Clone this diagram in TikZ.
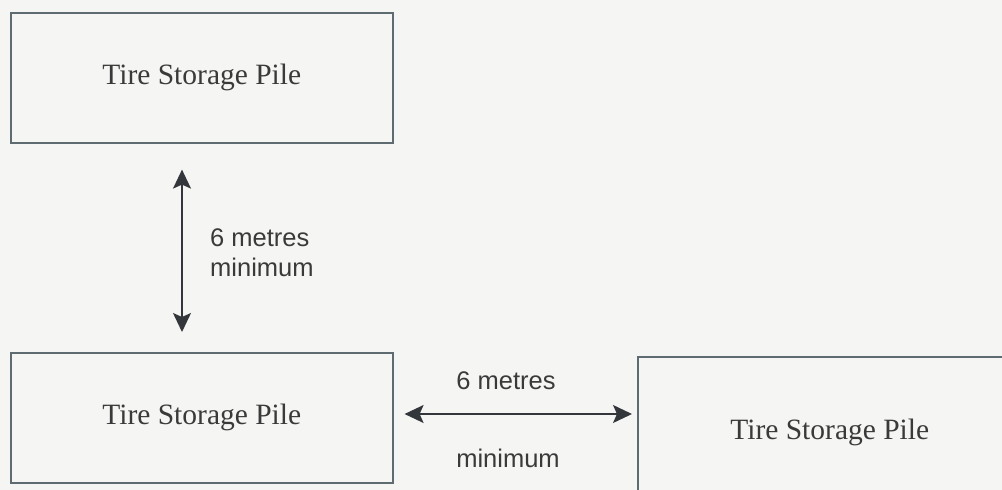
\documentclass[tikz,border=0pt]{standalone}
\usepackage{fontspec}
\setmainfont{Liberation Serif}
\setsansfont{Liberation Sans}
\usetikzlibrary{arrows.meta}
\definecolor{bgc}{HTML}{F5F5F3}
\definecolor{boxline}{HTML}{5E6C72}
\definecolor{txt}{HTML}{3A3A3A}
\definecolor{arr}{HTML}{33363A}
\tikzset{
  pile/.style={draw=boxline, line width=1.6pt, fill=none, text=txt,
    font=\fontsize{29.5}{34}\selectfont, inner sep=0pt, anchor=north west},
  dimline/.style={draw=arr, line width=1.4pt,
    {Stealth[length=19pt,width=18pt,inset=4pt]}-{Stealth[length=19pt,width=18pt,inset=4pt]}},
  dimlabel/.style={text=txt, font=\sffamily\fontsize{25.5}{30}\selectfont, inner sep=0pt}
}
\begin{document}
\begin{tikzpicture}[x=1pt,y=-1pt]
  \fill[bgc] (0,0) rectangle (1002,490);
  \useasboundingbox (0,0) rectangle (1002,490);
  \clip (0,0) rectangle (1002,490);
  \node[pile, minimum width=382pt, minimum height=130pt] (top) at (10,12) {Tire Storage Pile};
  \node[pile, minimum width=382pt, minimum height=130pt] (bl) at (10,352) {Tire Storage Pile};
  \node[pile, minimum width=384pt, minimum height=152pt] (br) at (637,356) {Tire Storage Pile};
  \coordinate (vx) at (182,0);
  \coordinate (hy) at (0,414);
  \draw[dimline, shorten <=26pt, shorten >=20pt] (top.south -| vx) -- (bl.north -| vx);
  \draw[dimline, shorten <=11pt, shorten >=5pt] (bl.east |- hy) -- (br.west |- hy);
  \node[dimlabel, anchor=west, align=left] (vlab) at (210,253) {6 metres\\minimum};
  \node[dimlabel] (hlab1) at (506,381) {6 metres};
  \node[dimlabel] (hlab2) at (508,458) {minimum};
\end{tikzpicture}
\end{document}
